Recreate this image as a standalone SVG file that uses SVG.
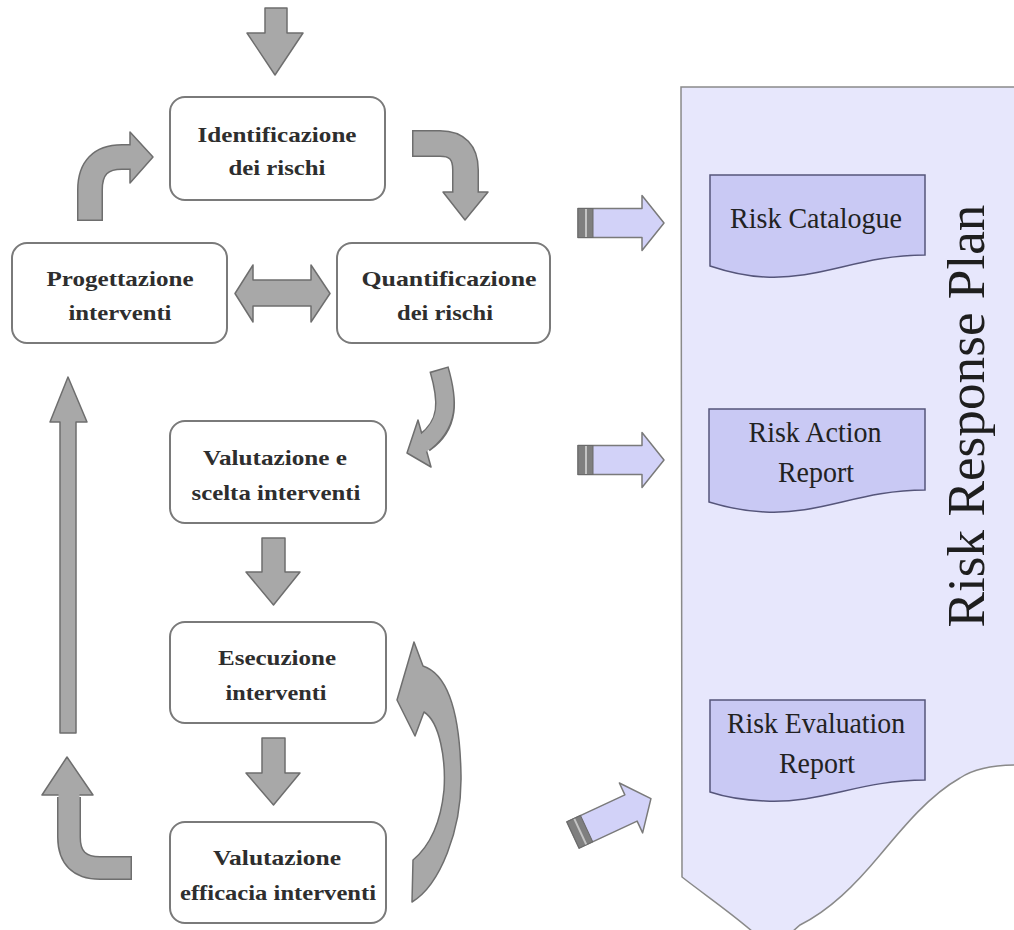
<svg xmlns="http://www.w3.org/2000/svg" width="1014" height="930" viewBox="0 0 1014 930">
<style>
.box{fill:#ffffff;stroke:#7a7a7a;stroke-width:2}
.lbl{font-family:"Liberation Serif",serif;font-weight:bold;font-size:21px;fill:#2e2e2e;text-anchor:middle}
.ga{fill:#a8a8a8;stroke:#6e6e6e;stroke-width:1.5;stroke-linejoin:round}
.go{fill:none;stroke:#6e6e6e}
.gf{fill:none;stroke:#a8a8a8}
.doc{fill:#c9c9f4;stroke:#55557a;stroke-width:1.5}
.dt{font-family:"Liberation Serif",serif;font-size:30px;fill:#222;text-anchor:middle}
</style>
<defs>
<g id="parrow">
<polygon points="0,-14.5 64,-14.5 64,-27.5 86,0 64,27.5 64,14.5 0,14.5" fill="#d2d2f8" stroke="#7a7a7a" stroke-width="1.5" stroke-linejoin="round"/>
<rect x="0" y="-14.5" width="15" height="29" fill="#7f7f7f" stroke="#6a6a6a" stroke-width="1"/>
<line x1="8" y1="-14" x2="8" y2="14" stroke="#c4c4c4" stroke-width="2"/>
</g>
</defs>
<rect width="1014" height="930" fill="#ffffff"/>

<g id="panel">
<path d="M681,87 L1016,87 L1016,765 C995,765 975,768 960,778 C930,795 905,825 880,855 C855,885 830,910 800,925 L792,932 L753,932 C730,912 705,895 682,877 Z" fill="#e7e7fc" stroke="#8a8a8a" stroke-width="1.5"/>
<text transform="translate(984,416) rotate(-90)" font-family="Liberation Serif, serif" font-size="52" fill="#1e1e1e" text-anchor="middle" textLength="423" lengthAdjust="spacingAndGlyphs">Risk Response Plan</text>
</g>

<g id="doc-catalogue">
<path class="doc" d="M710,175 H925 V255 C860,255 820,280 765,277 C740,276 722,270 710,266 Z"/>
<text class="dt" x="816" y="228" textLength="172" lengthAdjust="spacingAndGlyphs">Risk Catalogue</text>
</g>
<g id="doc-action">
<path class="doc" d="M709,409 H925 V490 C860,490 820,515 765,512 C740,511 722,506 709,502 Z"/>
<text class="dt" x="815" y="442" textLength="133" lengthAdjust="spacingAndGlyphs">Risk Action</text>
<text class="dt" x="816" y="482" textLength="76" lengthAdjust="spacingAndGlyphs">Report</text>
</g>
<g id="doc-evaluation">
<path class="doc" d="M710,700 H925 V780 C860,780 820,804 765,801 C740,800 722,796 710,792 Z"/>
<text class="dt" x="816" y="733" textLength="178" lengthAdjust="spacingAndGlyphs">Risk Evaluation</text>
<text class="dt" x="817" y="773" textLength="76" lengthAdjust="spacingAndGlyphs">Report</text>
</g>

<g id="n-identificazione">
<rect class="box" x="170" y="97" width="215" height="103" rx="15"/>
<text class="lbl" x="277" y="142" textLength="159" lengthAdjust="spacingAndGlyphs">Identificazione</text>
<text class="lbl" x="277" y="175" textLength="97" lengthAdjust="spacingAndGlyphs">dei rischi</text>
</g>
<g id="n-progettazione">
<rect class="box" x="12" y="243" width="215" height="100" rx="15"/>
<text class="lbl" x="120" y="286" textLength="147" lengthAdjust="spacingAndGlyphs">Progettazione</text>
<text class="lbl" x="120" y="320" textLength="103" lengthAdjust="spacingAndGlyphs">interventi</text>
</g>
<g id="n-quantificazione">
<rect class="box" x="337" y="243" width="213" height="100" rx="15"/>
<text class="lbl" x="449" y="286" textLength="175" lengthAdjust="spacingAndGlyphs">Quantificazione</text>
<text class="lbl" x="445" y="320" textLength="96" lengthAdjust="spacingAndGlyphs">dei rischi</text>
</g>
<g id="n-valutazione-scelta">
<rect class="box" x="170" y="421" width="216" height="102" rx="15"/>
<text class="lbl" x="275" y="465" textLength="144" lengthAdjust="spacingAndGlyphs">Valutazione e</text>
<text class="lbl" x="276" y="500" textLength="169" lengthAdjust="spacingAndGlyphs">scelta interventi</text>
</g>
<g id="n-esecuzione">
<rect class="box" x="170" y="622" width="216" height="101" rx="15"/>
<text class="lbl" x="277" y="665" textLength="118" lengthAdjust="spacingAndGlyphs">Esecuzione</text>
<text class="lbl" x="276" y="700" textLength="101" lengthAdjust="spacingAndGlyphs">interventi</text>
</g>
<g id="n-valutazione-efficacia">
<rect class="box" x="170" y="822" width="216" height="101" rx="15"/>
<text class="lbl" x="277" y="865" textLength="128" lengthAdjust="spacingAndGlyphs">Valutazione</text>
<text class="lbl" x="278" y="900" textLength="196" lengthAdjust="spacingAndGlyphs">efficacia interventi</text>
</g>

<g id="connectors">
<!-- top input arrow -->
<polygon class="ga" points="265,8 287,8 287,33 303,33 275,75 247,33 265,33"/>
<!-- Progettazione -> Identificazione -->
<path class="go" stroke-width="26" d="M90,221 L90,190 Q90,157 122,157 L133,157"/>
<polygon class="ga" points="130,132 153,157 130,183"/>
<path class="gf" stroke-width="23" d="M90,219.5 L90,190 Q90,157 122,157 L134,157"/>
<!-- Identificazione -> Quantificazione -->
<path class="go" stroke-width="27" d="M412,143.5 L440,143.5 Q465.5,143.5 465.5,170 L465.5,194"/>
<polygon class="ga" points="443,192 488,192 465,220"/>
<path class="gf" stroke-width="24" d="M413.5,143.5 L440,143.5 Q465.5,143.5 465.5,170 L465.5,196"/>
<!-- double arrow -->
<polygon class="ga" points="235,293.5 253,265 253,280 311,280 311,265 330,293.5 311,322 311,306 253,306 253,322"/>
<!-- Quantificazione -> Valutazione e scelta -->
<path class="go" stroke-width="20" d="M439,369 C448,400 450,425 424,443"/>
<polygon class="ga" points="418,420 407,453 431,467"/>
<path class="gf" stroke-width="17" d="M439.4,370.5 C448,400 450,425 421,445"/>
<!-- Valutazione e scelta -> Esecuzione -->
<polygon class="ga" points="262,538 285,538 285,572 300,572 273.5,605 246,572 262,572"/>
<!-- Esecuzione -> Valutazione efficacia -->
<polygon class="ga" points="262,738 285,738 285,773 300,773 273.5,805 246,773 262,773"/>
<!-- Valutazione efficacia -> Esecuzione (loop) -->
<path class="ga" d="M412,902 C440,885 462,830 461,775 C460,720 450,675 423,666 L414,642 L397,700 L415,736 L424,712 C440,722 446,760 444,790 C440,830 425,850 413,860 Z"/>
<!-- Valutazione efficacia -> back up (left) -->
<path class="go" stroke-width="24" d="M132,868 L100,868 Q69,868 69,837 L69,797"/>
<polygon class="ga" points="42,795 93,795 67,757"/>
<path class="gf" stroke-width="21" d="M130.5,868 L100,868 Q69,868 69,837 L69,793"/>
<!-- long up arrow to Progettazione -->
<polygon class="ga" points="60,733 76,733 76,422 87,422 68,377 50,422 60,422"/>
<!-- outputs to Risk Response Plan -->
<use href="#parrow" transform="translate(578,223)"/>
<use href="#parrow" transform="translate(578,460)"/>
<use href="#parrow" transform="translate(573,835) rotate(-25)"/>
</g>
</svg>
